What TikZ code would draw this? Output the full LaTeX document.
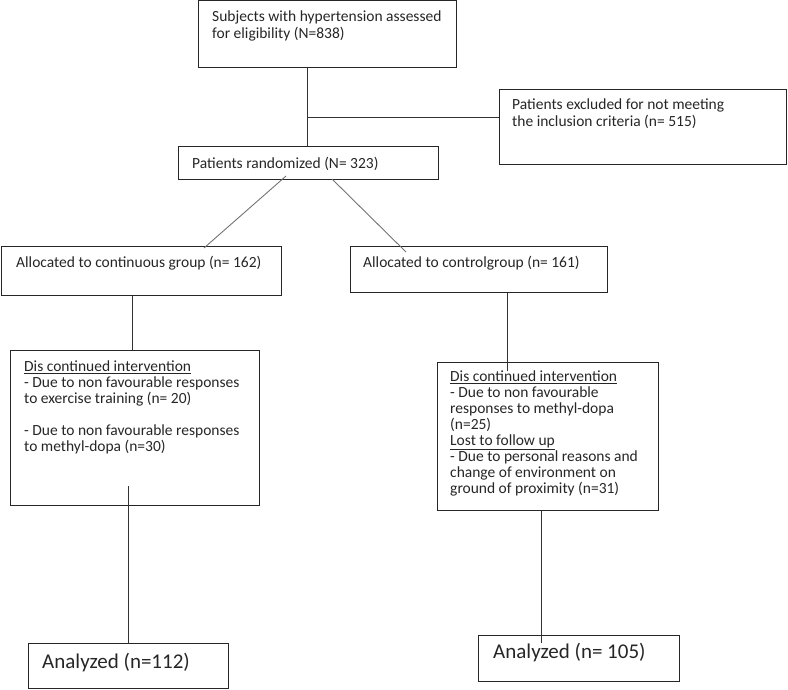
\documentclass[tikz,border=0pt]{standalone}
\usepackage{fontspec}
\setmainfont{Carlito}
\begin{document}
\begin{tikzpicture}[x=1pt,y=-1pt,
  box/.style={draw=black!85, line width=0.9pt, rectangle, inner sep=0pt, anchor=north west},
  txt/.style={anchor=north west, inner sep=0pt, align=left, text=black!85, font=\fontsize{15.5}{16}\selectfont},
  bigtxt/.style={anchor=base west, inner sep=0pt, align=left, text=black!85, font=\fontsize{21}{24}\selectfont},
  conn/.style={draw=black!80, line width=0.9pt},
  diag/.style={draw=black!55, line width=0.9pt}]
\useasboundingbox (0,0) rectangle (788,690);
% boxes
\node[box, minimum width=258pt, minimum height=67pt] (top) at (198,0.5) {};
\node[box, minimum width=287pt, minimum height=75pt] (excl) at (499,89) {};
\node[box, minimum width=260pt, minimum height=33pt] (rand) at (178,146) {};
\node[box, minimum width=280pt, minimum height=49pt] (allocL) at (0.5,246) {};
\node[box, minimum width=257pt, minimum height=46pt] (allocR) at (350,246) {};
\node[box, minimum width=249pt, minimum height=155pt] (discL) at (10,350) {};
\node[box, minimum width=221pt, minimum height=148pt] (discR) at (437,362) {};
\node[box, minimum width=200pt, minimum height=45pt] (anaL) at (28,643) {};
\node[box, minimum width=201pt, minimum height=46pt] (anaR) at (478,635) {};
% texts
\node[txt] (ttop) at (212,9.8) {\strut Subjects with hypertension assessed\\for eligibility (N=838)};
\node[txt] (texcl) at (512,97.8) {\strut Patients excluded for not meeting\\the inclusion criteria (n= 515)};
\node[txt] (trand) at (192,156.8) {\strut Patients randomized (N= 323)};
\node[txt] (tallocL) at (16,255.8) {\strut Allocated to continuous group (n= 162)};
\node[txt] (tallocR) at (363,255.8) {\strut Allocated to controlgroup (n= 161)};
\node[txt] (tdiscL) at (24,359.8) {\strut\underline{Dis continued intervention}\\- Due to non favourable responses\\to exercise training (n= 20)\\[16pt]- Due to non favourable responses\\to methyl-dopa (n=30)};
\node[txt] (tdiscR) at (450,369.8) {\strut\underline{Dis continued intervention}\\- Due to non favourable\\responses to methyl-dopa\\(n=25)\\\underline{Lost to follow up}\\- Due to personal reasons and\\change of environment on\\ground of proximity (n=31)};
\node[bigtxt] (tanaL) at (42,668) {Analyzed (n=112)};
\node[bigtxt] (tanaR) at (493,658) {Analyzed (n= 105)};
% connector points
\coordinate (j1) at (307,117);
\coordinate (d1s) at (286,176);
\coordinate (d1e) at (204,248);
\coordinate (d2s) at (332,179);
\coordinate (d2e) at (406,252);
\coordinate (l1) at (132,0);
\coordinate (r1) at (507,0);
\coordinate (r1e) at (507,371);
\coordinate (l2s) at (128,486);
\coordinate (r2) at (541,0);
\coordinate (r2e) at (541,643);
% connectors
\draw[conn] (top.south -| j1) -- (rand.north -| j1);
\draw[conn] (j1) -- (excl.west |- j1);
\draw[diag] (d1s) -- (d1e);
\draw[diag] (d2s) -- (d2e);
\draw[conn] (allocL.south -| l1) -- (discL.north -| l1);
\draw[conn] (allocR.south -| r1) -- (r1e);
\draw[conn] (l2s) -- (anaL.north -| l2s);
\draw[conn] (discR.south -| r2) -- (r2e);
\end{tikzpicture}
\end{document}
